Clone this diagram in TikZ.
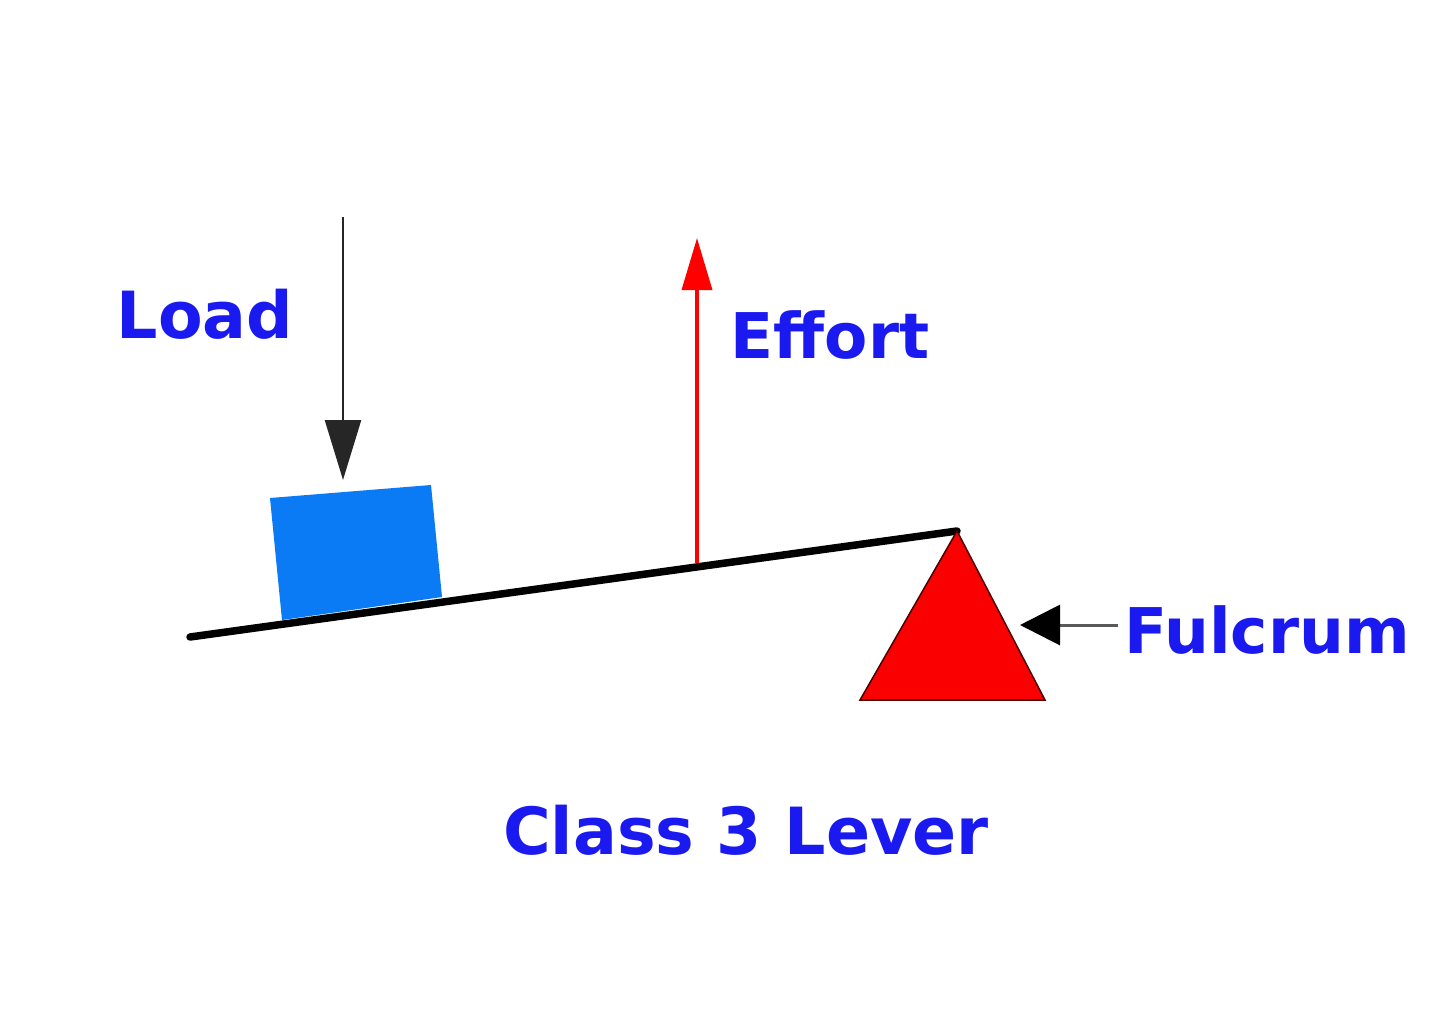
\documentclass[tikz,border=0pt]{standalone}
\usepackage{fontspec}
\setmainfont{DejaVu Sans}
\usetikzlibrary{arrows.meta}
\definecolor{txtblue}{RGB}{25,25,240}
\definecolor{boxblue}{RGB}{10,122,245}
\definecolor{fulred}{RGB}{250,0,0}
\tikzset{
  lbl/.style={text=txtblue, font=\fontsize{65}{70}\selectfont\bfseries, inner sep=0pt},
  lbln/.style={lbl, font=\fontsize{63}{70}\selectfont\bfseries},
  lever/.style={line width=7.5pt, black, line cap=round},
}
\begin{document}
\begin{tikzpicture}[x=1pt,y=-1pt]
\useasboundingbox (0,0) rectangle (1440,1021);
\fill[white] (0,0) rectangle (1440,1021);
% load box
\fill[boxblue] (270,498) -- (431,485) -- (442,597) -- (282,620) -- cycle;
% lever
\coordinate (levL) at (190,637);
\coordinate (levR) at (957,531);
\draw[lever] (levL) -- (levR);
% fulcrum triangle
\coordinate (apex) at (957,531);
\coordinate (baseL) at (860,700);
\coordinate (baseR) at (1045,700);
\filldraw[fill=fulred, draw=black!70!red, line width=1.5pt] (apex) -- (baseL) -- (baseR) -- cycle;
% load arrow
\coordinate (loadTop) at (343,217);
\coordinate (loadTip) at (343,480);
\draw[line width=2.5pt, black!85, -{Triangle[length=60pt,width=36pt]}] (loadTop) -- (loadTip);
% effort arrow
\coordinate (effBot) at (697,563);
\coordinate (effTip) at (697,238);
\draw[line width=3.5pt, red, -{Triangle[length=52pt,width=30pt]}] (effBot) -- (effTip);
% fulcrum arrow
\coordinate (fulStart) at (1118,625);
\coordinate (fulTip) at (1020,625);
\draw[line width=3pt, black!65, -{Triangle[length=40pt,width=40pt,fill=black,color=black]}] (fulStart) -- (fulTip);
% labels
\node[lbl] (load) at (205,314) {Load};
\node[lbln] (effort) at (830,335) {Effort};
\node[lbln] (fulcrum) at (1267,630) {Fulcrum};
\node[lbl] (title) at (746,830) {Class 3 Lever};
\end{tikzpicture}
\end{document}
